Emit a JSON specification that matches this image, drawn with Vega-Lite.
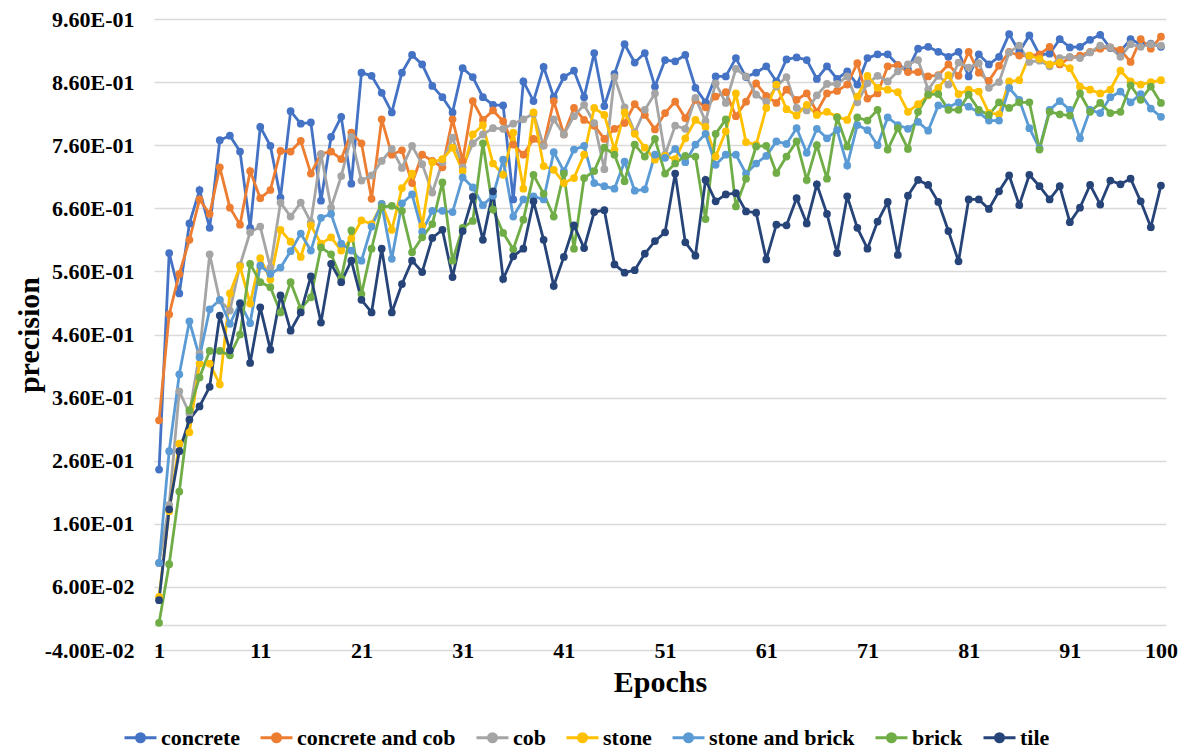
{
  "$schema": "https://vega.github.io/schema/vega-lite/v6.json",
  "width": 1012,
  "height": 631,
  "autosize": "none",
  "padding": {"left": 154, "top": 19, "right": 31, "bottom": 104},
  "background": "white",
  "config": {"view": {"stroke": null}, "font": "Liberation Serif"},
  "data": {"values": [
    {"e":1,"concrete":0.246,"concrete and cob":0.324,"cob":0.098,"stone":0.044,"stone and brick":0.098,"brick":0.003,"tile":0.039},
    {"e":2,"concrete":0.589,"concrete and cob":0.492,"cob":0.19,"stone":0.18,"stone and brick":0.275,"brick":0.096,"tile":0.183},
    {"e":3,"concrete":0.525,"concrete and cob":0.556,"cob":0.370,"stone":0.287,"stone and brick":0.397,"brick":0.211,"tile":0.275},
    {"e":4,"concrete":0.636,"concrete and cob":0.610,"cob":0.335,"stone":0.305,"stone and brick":0.481,"brick":0.340,"tile":0.325},
    {"e":5,"concrete":0.689,"concrete and cob":0.674,"cob":0.43,"stone":0.414,"stone and brick":0.424,"brick":0.392,"tile":0.346},
    {"e":6,"concrete":0.629,"concrete and cob":0.651,"cob":0.587,"stone":0.414,"stone and brick":0.500,"brick":0.434,"tile":0.377},
    {"e":7,"concrete":0.768,"concrete and cob":0.725,"cob":0.514,"stone":0.381,"stone and brick":0.515,"brick":0.434,"tile":0.490},
    {"e":8,"concrete":0.775,"concrete and cob":0.661,"cob":0.498,"stone":0.525,"stone and brick":0.477,"brick":0.427,"tile":0.435},
    {"e":9,"concrete":0.750,"concrete and cob":0.634,"cob":0.57,"stone":0.568,"stone and brick":0.51,"brick":0.460,"tile":0.509},
    {"e":10,"concrete":0.629,"concrete and cob":0.719,"cob":0.622,"stone":0.509,"stone and brick":0.478,"brick":0.572,"tile":0.415},
    {"e":11,"concrete":0.789,"concrete and cob":0.676,"cob":0.631,"stone":0.581,"stone and brick":0.569,"brick":0.543,"tile":0.503},
    {"e":12,"concrete":0.759,"concrete and cob":0.689,"cob":0.566,"stone":0.547,"stone and brick":0.556,"brick":0.535,"tile":0.436},
    {"e":13,"concrete":0.677,"concrete and cob":0.751,"cob":0.669,"stone":0.626,"stone and brick":0.566,"brick":0.495,"tile":0.522},
    {"e":14,"concrete":0.814,"concrete and cob":0.750,"cob":0.647,"stone":0.607,"stone and brick":0.592,"brick":0.543,"tile":0.466},
    {"e":15,"concrete":0.794,"concrete and cob":0.767,"cob":0.669,"stone":0.583,"stone and brick":0.620,"brick":0.501,"tile":0.495},
    {"e":16,"concrete":0.796,"concrete and cob":0.715,"cob":0.638,"stone":0.633,"stone and brick":0.593,"brick":0.519,"tile":0.552},
    {"e":17,"concrete":0.672,"concrete and cob":0.746,"cob":0.746,"stone":0.604,"stone and brick":0.645,"brick":0.598,"tile":0.479},
    {"e":18,"concrete":0.773,"concrete and cob":0.750,"cob":0.661,"stone":0.614,"stone and brick":0.651,"brick":0.587,"tile":0.572},
    {"e":19,"concrete":0.805,"concrete and cob":0.738,"cob":0.711,"stone":0.593,"stone and brick":0.604,"brick":0.549,"tile":0.543},
    {"e":20,"concrete":0.699,"concrete and cob":0.780,"cob":0.773,"stone":0.612,"stone and brick":0.593,"brick":0.625,"tile":0.577},
    {"e":21,"concrete":0.875,"concrete and cob":0.763,"cob":0.704,"stone":0.641,"stone and brick":0.577,"brick":0.524,"tile":0.515},
    {"e":22,"concrete":0.870,"concrete and cob":0.675,"cob":0.712,"stone":0.635,"stone and brick":0.631,"brick":0.596,"tile":0.495},
    {"e":23,"concrete":0.843,"concrete and cob":0.801,"cob":0.735,"stone":0.667,"stone and brick":0.667,"brick":0.662,"tile":0.596},
    {"e":24,"concrete":0.812,"concrete and cob":0.745,"cob":0.754,"stone":0.626,"stone and brick":0.580,"brick":0.664,"tile":0.495},
    {"e":25,"concrete":0.875,"concrete and cob":0.752,"cob":0.724,"stone":0.692,"stone and brick":0.668,"brick":0.656,"tile":0.540},
    {"e":26,"concrete":0.903,"concrete and cob":0.700,"cob":0.759,"stone":0.715,"stone and brick":0.682,"brick":0.590,"tile":0.577},
    {"e":27,"concrete":0.888,"concrete and cob":0.745,"cob":0.730,"stone":0.632,"stone and brick":0.623,"brick":0.614,"tile":0.559},
    {"e":28,"concrete":0.854,"concrete and cob":0.735,"cob":0.685,"stone":0.733,"stone and brick":0.656,"brick":0.635,"tile":0.613},
    {"e":29,"concrete":0.836,"concrete and cob":0.725,"cob":0.733,"stone":0.738,"stone and brick":0.656,"brick":0.701,"tile":0.626},
    {"e":30,"concrete":0.812,"concrete and cob":0.801,"cob":0.772,"stone":0.756,"stone and brick":0.654,"brick":0.577,"tile":0.551},
    {"e":31,"concrete":0.882,"concrete and cob":0.735,"cob":0.725,"stone":0.719,"stone and brick":0.709,"brick":0.629,"tile":0.624},
    {"e":32,"concrete":0.868,"concrete and cob":0.830,"cob":0.763,"stone":0.777,"stone and brick":0.693,"brick":0.640,"tile":0.678},
    {"e":33,"concrete":0.836,"concrete and cob":0.800,"cob":0.777,"stone":0.792,"stone and brick":0.665,"brick":0.763,"tile":0.610},
    {"e":34,"concrete":0.824,"concrete and cob":0.815,"cob":0.787,"stone":0.731,"stone and brick":0.680,"brick":0.658,"tile":0.687},
    {"e":35,"concrete":0.823,"concrete and cob":0.798,"cob":0.786,"stone":0.713,"stone and brick":0.737,"brick":0.621,"tile":0.548},
    {"e":36,"concrete":0.674,"concrete and cob":0.761,"cob":0.794,"stone":0.780,"stone and brick":0.647,"brick":0.595,"tile":0.584},
    {"e":37,"concrete":0.861,"concrete and cob":0.745,"cob":0.801,"stone":0.691,"stone and brick":0.674,"brick":0.642,"tile":0.596},
    {"e":38,"concrete":0.830,"concrete and cob":0.770,"cob":0.810,"stone":0.812,"stone and brick":0.679,"brick":0.713,"tile":0.671},
    {"e":39,"concrete":0.884,"concrete and cob":0.760,"cob":0.759,"stone":0.727,"stone and brick":0.674,"brick":0.683,"tile":0.610},
    {"e":40,"concrete":0.836,"concrete and cob":0.830,"cob":0.801,"stone":0.721,"stone and brick":0.749,"brick":0.647,"tile":0.537},
    {"e":41,"concrete":0.868,"concrete and cob":0.777,"cob":0.777,"stone":0.700,"stone and brick":0.719,"brick":0.715,"tile":0.583},
    {"e":42,"concrete":0.878,"concrete and cob":0.819,"cob":0.806,"stone":0.708,"stone and brick":0.753,"brick":0.596,"tile":0.633},
    {"e":43,"concrete":0.836,"concrete and cob":0.800,"cob":0.824,"stone":0.745,"stone and brick":0.759,"brick":0.708,"tile":0.597},
    {"e":44,"concrete":0.906,"concrete and cob":0.791,"cob":0.795,"stone":0.819,"stone and brick":0.700,"brick":0.719,"tile":0.654},
    {"e":45,"concrete":0.822,"concrete and cob":0.770,"cob":0.722,"stone":0.808,"stone and brick":0.695,"brick":0.756,"tile":0.657},
    {"e":46,"concrete":0.873,"concrete and cob":0.786,"cob":0.868,"stone":0.753,"stone and brick":0.691,"brick":0.745,"tile":0.571},
    {"e":47,"concrete":0.920,"concrete and cob":0.795,"cob":0.820,"stone":0.812,"stone and brick":0.734,"brick":0.703,"tile":0.558},
    {"e":48,"concrete":0.891,"concrete and cob":0.825,"cob":0.780,"stone":0.778,"stone and brick":0.688,"brick":0.761,"tile":0.562},
    {"e":49,"concrete":0.906,"concrete and cob":0.808,"cob":0.816,"stone":0.756,"stone and brick":0.690,"brick":0.742,"tile":0.588},
    {"e":50,"concrete":0.853,"concrete and cob":0.785,"cob":0.842,"stone":0.737,"stone and brick":0.745,"brick":0.770,"tile":0.608},
    {"e":51,"concrete":0.895,"concrete and cob":0.811,"cob":0.745,"stone":0.743,"stone and brick":0.740,"brick":0.715,"tile":0.622},
    {"e":52,"concrete":0.893,"concrete and cob":0.829,"cob":0.791,"stone":0.738,"stone and brick":0.754,"brick":0.731,"tile":0.715},
    {"e":53,"concrete":0.903,"concrete and cob":0.803,"cob":0.786,"stone":0.771,"stone and brick":0.733,"brick":0.743,"tile":0.606},
    {"e":54,"concrete":0.851,"concrete and cob":0.832,"cob":0.835,"stone":0.800,"stone and brick":0.761,"brick":0.742,"tile":0.585},
    {"e":55,"concrete":0.828,"concrete and cob":0.820,"cob":0.798,"stone":0.789,"stone and brick":0.778,"brick":0.643,"tile":0.705},
    {"e":56,"concrete":0.869,"concrete and cob":0.837,"cob":0.858,"stone":0.742,"stone and brick":0.729,"brick":0.778,"tile":0.671},
    {"e":57,"concrete":0.869,"concrete and cob":0.844,"cob":0.827,"stone":0.782,"stone and brick":0.745,"brick":0.801,"tile":0.682},
    {"e":58,"concrete":0.898,"concrete and cob":0.806,"cob":0.881,"stone":0.842,"stone and brick":0.745,"brick":0.663,"tile":0.684},
    {"e":59,"concrete":0.868,"concrete and cob":0.829,"cob":0.869,"stone":0.765,"stone and brick":0.715,"brick":0.707,"tile":0.655},
    {"e":60,"concrete":0.875,"concrete and cob":0.858,"cob":0.840,"stone":0.761,"stone and brick":0.731,"brick":0.758,"tile":0.653},
    {"e":61,"concrete":0.885,"concrete and cob":0.838,"cob":0.829,"stone":0.819,"stone and brick":0.743,"brick":0.759,"tile":0.579},
    {"e":62,"concrete":0.861,"concrete and cob":0.827,"cob":0.853,"stone":0.856,"stone and brick":0.766,"brick":0.716,"tile":0.634},
    {"e":63,"concrete":0.896,"concrete and cob":0.848,"cob":0.868,"stone":0.817,"stone and brick":0.762,"brick":0.742,"tile":0.633},
    {"e":64,"concrete":0.899,"concrete and cob":0.832,"cob":0.819,"stone":0.807,"stone and brick":0.787,"brick":0.766,"tile":0.676},
    {"e":65,"concrete":0.895,"concrete and cob":0.842,"cob":0.815,"stone":0.824,"stone and brick":0.748,"brick":0.705,"tile":0.636},
    {"e":66,"concrete":0.865,"concrete and cob":0.813,"cob":0.839,"stone":0.808,"stone and brick":0.786,"brick":0.760,"tile":0.698},
    {"e":67,"concrete":0.885,"concrete and cob":0.842,"cob":0.857,"stone":0.813,"stone and brick":0.771,"brick":0.707,"tile":0.651},
    {"e":68,"concrete":0.865,"concrete and cob":0.846,"cob":0.857,"stone":0.805,"stone and brick":0.784,"brick":0.804,"tile":0.589},
    {"e":69,"concrete":0.877,"concrete and cob":0.856,"cob":0.869,"stone":0.800,"stone and brick":0.728,"brick":0.758,"tile":0.679},
    {"e":70,"concrete":0.856,"concrete and cob":0.890,"cob":0.828,"stone":0.837,"stone and brick":0.792,"brick":0.804,"tile":0.629},
    {"e":71,"concrete":0.898,"concrete and cob":0.834,"cob":0.858,"stone":0.870,"stone and brick":0.784,"brick":0.799,"tile":0.596},
    {"e":72,"concrete":0.904,"concrete and cob":0.842,"cob":0.870,"stone":0.851,"stone and brick":0.760,"brick":0.816,"tile":0.639},
    {"e":73,"concrete":0.904,"concrete and cob":0.885,"cob":0.861,"stone":0.848,"stone and brick":0.804,"brick":0.753,"tile":0.670},
    {"e":74,"concrete":0.887,"concrete and cob":0.887,"cob":0.877,"stone":0.844,"stone and brick":0.792,"brick":0.787,"tile":0.586},
    {"e":75,"concrete":0.880,"concrete and cob":0.876,"cob":0.888,"stone":0.813,"stone and brick":0.786,"brick":0.754,"tile":0.680},
    {"e":76,"concrete":0.913,"concrete and cob":0.876,"cob":0.895,"stone":0.825,"stone and brick":0.797,"brick":0.813,"tile":0.705},
    {"e":77,"concrete":0.916,"concrete and cob":0.869,"cob":0.848,"stone":0.839,"stone and brick":0.783,"brick":0.840,"tile":0.697},
    {"e":78,"concrete":0.908,"concrete and cob":0.871,"cob":0.870,"stone":0.851,"stone and brick":0.823,"brick":0.841,"tile":0.670},
    {"e":79,"concrete":0.900,"concrete and cob":0.888,"cob":0.856,"stone":0.871,"stone and brick":0.820,"brick":0.816,"tile":0.624},
    {"e":80,"concrete":0.908,"concrete and cob":0.870,"cob":0.891,"stone":0.841,"stone and brick":0.828,"brick":0.816,"tile":0.576},
    {"e":81,"concrete":0.869,"concrete and cob":0.908,"cob":0.883,"stone":0.848,"stone and brick":0.821,"brick":0.840,"tile":0.674},
    {"e":82,"concrete":0.904,"concrete and cob":0.875,"cob":0.890,"stone":0.845,"stone and brick":0.812,"brick":0.816,"tile":0.674},
    {"e":83,"concrete":0.888,"concrete and cob":0.862,"cob":0.851,"stone":0.811,"stone and brick":0.799,"brick":0.808,"tile":0.659},
    {"e":84,"concrete":0.900,"concrete and cob":0.886,"cob":0.860,"stone":0.809,"stone and brick":0.799,"brick":0.828,"tile":0.687},
    {"e":85,"concrete":0.936,"concrete and cob":0.908,"cob":0.907,"stone":0.861,"stone and brick":0.851,"brick":0.819,"tile":0.712},
    {"e":86,"concrete":0.908,"concrete and cob":0.902,"cob":0.918,"stone":0.863,"stone and brick":0.832,"brick":0.828,"tile":0.665},
    {"e":87,"concrete":0.934,"concrete and cob":0.902,"cob":0.892,"stone":0.902,"stone and brick":0.787,"brick":0.828,"tile":0.713},
    {"e":88,"concrete":0.903,"concrete and cob":0.904,"cob":0.894,"stone":0.897,"stone and brick":0.755,"brick":0.753,"tile":0.695},
    {"e":89,"concrete":0.905,"concrete and cob":0.916,"cob":0.885,"stone":0.888,"stone and brick":0.816,"brick":0.813,"tile":0.674},
    {"e":90,"concrete":0.928,"concrete and cob":0.888,"cob":0.898,"stone":0.891,"stone and brick":0.830,"brick":0.809,"tile":0.695},
    {"e":91,"concrete":0.915,"concrete and cob":0.899,"cob":0.900,"stone":0.882,"stone and brick":0.816,"brick":0.807,"tile":0.638},
    {"e":92,"concrete":0.916,"concrete and cob":0.902,"cob":0.898,"stone":0.853,"stone and brick":0.771,"brick":0.842,"tile":0.661},
    {"e":93,"concrete":0.927,"concrete and cob":0.908,"cob":0.907,"stone":0.848,"stone and brick":0.816,"brick":0.813,"tile":0.697},
    {"e":94,"concrete":0.935,"concrete and cob":0.913,"cob":0.918,"stone":0.842,"stone and brick":0.811,"brick":0.827,"tile":0.666},
    {"e":95,"concrete":0.914,"concrete and cob":0.915,"cob":0.915,"stone":0.848,"stone and brick":0.836,"brick":0.811,"tile":0.704},
    {"e":96,"concrete":0.909,"concrete and cob":0.911,"cob":0.900,"stone":0.878,"stone and brick":0.845,"brick":0.813,"tile":0.698},
    {"e":97,"concrete":0.928,"concrete and cob":0.892,"cob":0.920,"stone":0.861,"stone and brick":0.828,"brick":0.855,"tile":0.707},
    {"e":98,"concrete":0.920,"concrete and cob":0.928,"cob":0.916,"stone":0.856,"stone and brick":0.841,"brick":0.832,"tile":0.671},
    {"e":99,"concrete":0.921,"concrete and cob":0.913,"cob":0.920,"stone":0.860,"stone and brick":0.818,"brick":0.853,"tile":0.630},
    {"e":100,"concrete":0.916,"concrete and cob":0.932,"cob":0.918,"stone":0.863,"stone and brick":0.805,"brick":0.827,"tile":0.696}
  ]},
  "transform": [
    {"fold": ["concrete", "concrete and cob", "cob", "stone", "stone and brick", "brick", "tile"], "as": ["material", "precision"]}
  ],
  "mark": {"type": "line", "strokeWidth": 2.8, "point": {"filled": true, "size": 60}},
  "encoding": {
    "x": {
      "field": "e", "type": "quantitative",
      "scale": {"domain": [0.5, 100.5], "nice": false, "zero": false},
      "axis": {
        "values": [1, 11, 21, 31, 41, 51, 61, 71, 81, 91, 100],
        "title": "Epochs",
        "titleFont": "Liberation Serif", "titleFontSize": 30, "titleFontWeight": "bold", "titleColor": "#000000",
        "titlePadding": 6,
        "labelFont": "Liberation Serif", "labelFontSize": 22, "labelFontWeight": "bold", "labelColor": "#000000",
        "labelBaseline": "middle", "labelPadding": 0, "labelFlush": false, "labelOverlap": false,
        "tickSize": 0, "ticks": false, "domain": false, "grid": false
      }
    },
    "y": {
      "field": "precision", "type": "quantitative",
      "scale": {"domain": [-0.04, 0.96], "nice": false, "zero": false},
      "axis": {
        "values": [-0.04, 0, 0.06, 0.16, 0.26, 0.36, 0.46, 0.56, 0.66, 0.76, 0.86, 0.96],
        "labelExpr": "datum.value === 0 ? '' : replace(replace(upper(format(datum.value, '.2e')), 'E-', 'E-0'), '\u2212', '-')",
        "title": "precision",
        "titleFont": "Liberation Serif", "titleFontSize": 30, "titleFontWeight": "bold", "titleColor": "#000000",
        "titlePadding": 0,
        "labelFont": "Liberation Serif", "labelFontSize": 22, "labelFontWeight": "bold", "labelColor": "#000000",
        "labelPadding": 20, "labelOverlap": false, "labelFlush": false,
        "tickSize": 0, "ticks": false, "domain": false,
        "grid": true, "gridColor": "#d9d9d9", "gridWidth": 1.3
      }
    },
    "color": {
      "field": "material", "type": "nominal",
      "scale": {
        "domain": ["concrete", "concrete and cob", "cob", "stone", "stone and brick", "brick", "tile"],
        "range": ["#4472C4", "#ED7D31", "#A5A5A5", "#FFC000", "#5B9BD5", "#70AD47", "#264478"]
      },
      "legend": {
        "orient": "none", "legendX": -31, "legendY": 701,
        "direction": "horizontal", "title": null, "padding": 0,
        "symbolType": "M-1,0L1,0M-0.25,0A0.25,0.25,0,1,1,0.25,0A0.25,0.25,0,1,1,-0.25,0Z",
        "symbolSize": 1024, "symbolStrokeWidth": 3,
        "labelFont": "Liberation Serif", "labelFontSize": 22, "labelFontWeight": "bold", "labelColor": "#000000",
        "labelOffset": 3, "columnPadding": 14, "labelLimit": 400,
        "encode": {"symbols": {"update": {"fill": {"scale": "color", "field": "value"}, "stroke": {"scale": "color", "field": "value"}, "opacity": {"value": 1}}}}
      }
    },
    "order": {"field": "e", "type": "quantitative"}
  }
}
